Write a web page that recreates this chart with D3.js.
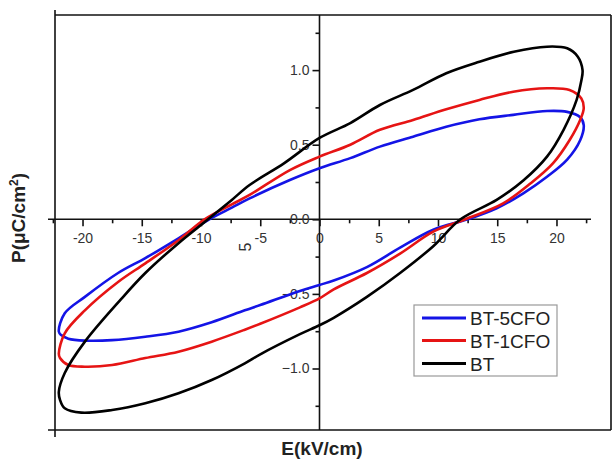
<!DOCTYPE html>
<html>
<head>
<meta charset="utf-8">
<script src="https://cdn.jsdelivr.net/npm/d3@7"></script>
<style>
  body { margin: 0; background: #fff; }
  text { font-family: "Liberation Sans", Arial, sans-serif; }
</style>
</head>
<body>
<script>
// loops, left tip -> upper branch -> right tip -> lower branch
var bt5cfoE = [-22.0, -21.5, -19.8, -17.0, -14.7, -11.9, -9.3, -7.4, -5.9, -2.5, 0, 2.6, 5.1, 7.9, 10.7, 13.5, 16.35, 19.2, 20.9, 22.0, 22.3,
               22.0, 20.9, 19.2, 17.2, 14.95, 12.5, 9.6, 6.8, 4.0, 1.2, 0, -1.65, -5.0, -6.3, -9.1, -11.9, -14.7, -17.5, -19.8, -21.2, -21.8];
var bt5cfoP = [-0.753, -0.63, -0.52, -0.36, -0.26, -0.127, 0.0, 0.078, 0.14, 0.263, 0.342, 0.41, 0.487, 0.554, 0.62, 0.67, 0.70, 0.726, 0.72, 0.684, 0.632,
               0.53, 0.40, 0.285, 0.174, 0.074, 0.0, -0.07, -0.19, -0.32, -0.41, -0.44, -0.48, -0.575, -0.61, -0.69, -0.753, -0.787, -0.81, -0.813, -0.80, -0.776];

var bt1cfoE = [-22.0, -21.5, -19.8, -17.0, -14.7, -11.9, -9.7, -7.4, -5.9, -2.5, 0, 2.6, 5.1, 7.9, 10.7, 13.5, 16.35, 19.2, 21.1, 22.1, 22.3,
               22.0, 21.1, 19.7, 17.8, 15.5, 12.3, 9.6, 6.8, 4.0, 1.2, 0, -1.65, -5.0, -6.3, -9.1, -11.9, -14.7, -17.5, -19.8, -21.2, -21.9];
var bt1cfoP = [-0.90, -0.764, -0.61, -0.42, -0.295, -0.14, 0.0, 0.10, 0.163, 0.33, 0.42, 0.50, 0.60, 0.666, 0.737, 0.80, 0.855, 0.878, 0.867, 0.81, 0.744,
               0.666, 0.53, 0.375, 0.24, 0.107, 0.0, -0.083, -0.23, -0.36, -0.47, -0.53, -0.59, -0.70, -0.74, -0.82, -0.887, -0.93, -0.977, -0.988, -0.977, -0.93];

var btE = [-22.0, -21.5, -19.8, -16.8, -14.7, -11.9, -9.4, -7.4, -5.9, -3.0, 0, 2.6, 5.1, 7.9, 10.7, 13.5, 16.4, 19.2, 20.9, 21.8, 22.2, 22.1,
           21.7, 20.6, 19.2, 17.2, 14.95, 11.9, 9.6, 6.8, 4.0, 1.2, 0, -1.65, -5.0, -6.3, -9.1, -11.9, -14.7, -17.5, -20.1, -21.5, -21.9];
var btP = [-1.156, -1.03, -0.82, -0.54, -0.36, -0.16, 0.0, 0.13, 0.23, 0.375, 0.545, 0.645, 0.766, 0.867, 0.979, 1.056, 1.123, 1.157, 1.146, 1.09, 1.0, 0.93,
           0.80, 0.60, 0.42, 0.26, 0.13, 0.0, -0.18, -0.36, -0.52, -0.66, -0.71, -0.77, -0.905, -0.965, -1.077, -1.166, -1.233, -1.278, -1.296, -1.267, -1.21];

var seriesNames = ["BT-5CFO", "BT-1CFO", "BT"];
var seriesColors = ["#1414e6", "#e61414", "#000000"];
var xTicks = [-20, -15, -10, -5, 0, 5, 10, 15, 20];
var yTicks = [-1.0, -0.5, 0.0, 0.5, 1.0];

var width = 614, height = 461;

var svg = d3.select("body")
  .append("svg")
  .attr("width", width)
  .attr("height", height);

var x = d3.scaleLinear().domain([-22.5, 22.5]).range([52.9, 586.1]);
var y = d3.scaleLinear().domain([-1.25, 1.25]).range([405.8, 32.8]);

var frameL = 55, frameR = 611, frameT = 15, frameB = 430;

// outer frame
svg.append("line").attr("x1", frameL).attr("x2", frameR).attr("y1", frameT).attr("y2", frameT);
svg.append("line").attr("x1", 48).attr("x2", frameR).attr("y1", frameB).attr("y2", frameB);
svg.append("line").attr("x1", frameL).attr("x2", frameL).attr("y1", 10).attr("y2", 437);
svg.append("line").attr("x1", frameR).attr("x2", frameR).attr("y1", frameT).attr("y2", frameB);
svg.selectAll("line").attr("stroke", "#111").attr("stroke-width", 1.6);

// x axis through P = 0, ticks pointing down
var xAxis = d3.axisBottom(x)
  .tickValues(d3.range(-22.5, 22.6, 2.5))
  .tickSize(7)
  .tickFormat(function(d) { return xTicks.indexOf(d) >= 0 ? d : ""; });

var gx = svg.append("g")
  .attr("transform", `translate(0 ${y(0)})`)
  .call(xAxis);
gx.select(".domain").attr("d", `M48,0H591`);
gx.selectAll(".tick line")
  .attr("y2", function(d) { return xTicks.indexOf(d) >= 0 ? 7 : 4; });

// y axis through E = 0, ticks pointing left
var yAxis = d3.axisLeft(y)
  .tickValues(d3.range(-1.25, 1.26, 0.25))
  .tickSize(7)
  .tickFormat(function(d) {
    var r = Math.round(d * 100) / 100;
    return yTicks.indexOf(r) >= 0 ? d3.format(".1f")(r) : "";
  });

var gy = svg.append("g")
  .attr("transform", `translate(${x(0)} 0)`)
  .call(yAxis);
gy.select(".domain").attr("d", `M0,${frameT}V${frameB}`);
gy.selectAll(".tick line")
  .attr("x2", function(d) { return yTicks.indexOf(Math.round(d * 100) / 100) >= 0 ? -7 : -4; });

svg.selectAll(".domain, .tick line").attr("stroke", "#111").attr("stroke-width", 1.6);
svg.selectAll(".tick text")
  .style("font-family", "'Liberation Sans', Arial, sans-serif")
  .style("font-size", "14px")
  .attr("fill", "#333");
gx.selectAll(".tick text").attr("y", 14);
gy.selectAll(".tick text").attr("x", -10);

// the stray rotated "5" sitting under the axis
svg.append("text")
  .attr("transform", "translate(251 247) rotate(-90)")
  .attr("text-anchor", "middle")
  .style("font-size", "16px")
  .attr("fill", "#333")
  .text("5");

// loops
var allE = [bt5cfoE, bt1cfoE, btE];
var allP = [bt5cfoP, bt1cfoP, btP];

var line = d3.line()
  .x(function(d) { return x(d[0]); })
  .y(function(d) { return y(d[1]); })
  .curve(d3.curveCatmullRomClosed.alpha(0.5));

for (var i = 0; i < allE.length; i++) {
  var pts = d3.zip(allE[i], allP[i]);
  svg.append("path")
    .datum(pts)
    .attr("d", line)
    .attr("fill", "none")
    .attr("stroke", seriesColors[i])
    .attr("stroke-width", 2.6)
    .attr("stroke-linejoin", "round");
}

// axis titles
svg.append("text")
  .attr("x", 322)
  .attr("y", 455)
  .attr("text-anchor", "middle")
  .style("font-size", "19px")
  .style("font-weight", "bold")
  .attr("fill", "#222")
  .text("E(kV/cm)");

var yTitle = svg.append("text")
  .attr("transform", "translate(25 218) rotate(-90)")
  .attr("text-anchor", "middle")
  .style("font-size", "19px")
  .style("font-weight", "bold")
  .attr("fill", "#222");
yTitle.append("tspan").text("P(\u03bcC/cm");
yTitle.append("tspan").attr("dy", -7).style("font-size", "12px").text("2");
yTitle.append("tspan").attr("dy", 7).text(")");

// legend
var legend = svg.append("g");
legend.append("rect")
  .attr("x", 414).attr("y", 305)
  .attr("width", 143).attr("height", 71)
  .attr("fill", "#fff")
  .attr("stroke", "#999")
  .attr("stroke-width", 1.2);

var rowY = [318, 340.5, 363.5];
seriesNames.forEach(function(name, i) {
  legend.append("line")
    .attr("x1", 422).attr("x2", 466)
    .attr("y1", rowY[i]).attr("y2", rowY[i])
    .attr("stroke", seriesColors[i])
    .attr("stroke-width", 3);
  legend.append("text")
    .attr("x", 470)
    .attr("y", rowY[i] + 7)
    .style("font-size", "19px")
    .attr("fill", "#222")
    .text(name);
});
</script>
</body>
</html>
